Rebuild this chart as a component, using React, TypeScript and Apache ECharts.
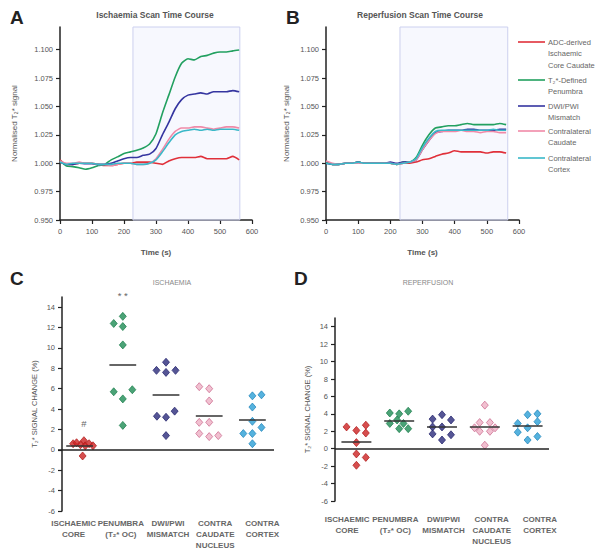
import React, { useEffect, useRef } from "react";
import * as echarts from "echarts";

// ---------- Panel A/B: time courses ----------
const time = [0, 20, 40, 60, 80, 100, 120, 140, 160, 180, 200, 220, 240, 260, 280, 300, 320, 340, 360, 380, 400, 420, 440, 460, 480, 500, 520, 540, 560];

const seriesNames = ["ADC-derived Ischaemic Core Caudate", "T₂*-Defined Penumbra", "DWI/PWI Mismatch", "Contralateral Caudate", "Contralateral Cortex"];
const legendLabels = ["ADC-derived\nIschaemic\nCore Caudate", "T₂*-Defined\nPenumbra", "DWI/PWI\nMismatch", "Contralateral\nCaudate", "Contralateral\nCortex"];

const aRed = [1.003, 0.999, 0.999, 1.0, 1.0, 1.0, 0.999, 0.998, 0.998, 0.999, 1.0, 1.0, 1.001, 1.001, 1.001, 1.0, 0.999, 1.002, 1.004, 1.005, 1.005, 1.005, 1.006, 1.004, 1.004, 1.004, 1.004, 1.006, 1.003];
const aGreen = [1.002, 0.9976, 0.997, 0.996, 0.9947, 0.996, 0.998, 0.999, 1.003, 1.0056, 1.0085, 1.01, 1.0115, 1.0135, 1.017, 1.026, 1.044, 1.06, 1.076, 1.088, 1.092, 1.091, 1.094, 1.095, 1.097, 1.098, 1.098, 1.099, 1.0997];
const aNavy = [1.001, 0.999, 0.999, 1.0, 0.9995, 0.9995, 0.999, 0.999, 1.0, 1.002, 1.004, 1.005, 1.005, 1.007, 1.008, 1.013, 1.025, 1.036, 1.048, 1.056, 1.06, 1.061, 1.062, 1.061, 1.063, 1.063, 1.063, 1.064, 1.063];
const aPink = [1.002, 1.0, 1.0, 1.001, 1.0, 1.0, 0.999, 0.999, 0.998, 0.999, 1.0, 1.0, 0.999, 0.999, 1.0, 1.004, 1.012, 1.021, 1.028, 1.031, 1.031, 1.032, 1.032, 1.031, 1.03, 1.031, 1.032, 1.032, 1.031];
const aCyan = [1.001, 0.999, 1.0, 1.0, 1.0, 1.0, 0.999, 0.999, 0.999, 1.0, 1.0, 1.0, 0.999, 0.999, 1.0, 1.003, 1.01, 1.018, 1.025, 1.028, 1.029, 1.03, 1.029, 1.03, 1.029, 1.03, 1.03, 1.03, 1.029];

const bRed = [1.001, 0.999, 0.999, 1.0, 1.0, 1.001, 1.0, 1.0, 1.0, 1.0, 1.0, 0.999, 1.0, 1.0, 1.001, 1.003, 1.004, 1.006, 1.008, 1.009, 1.011, 1.01, 1.01, 1.01, 1.01, 1.009, 1.01, 1.01, 1.009];
const bGreen = [1.001, 0.999, 0.999, 1.0, 1.0, 1.001, 1.0, 1.0, 1.0, 1.0, 1.0, 0.999, 1.001, 1.001, 1.005, 1.016, 1.025, 1.031, 1.032, 1.033, 1.033, 1.034, 1.035, 1.034, 1.034, 1.034, 1.034, 1.035, 1.034];
const bNavy = [1.0, 0.999, 0.999, 1.0, 1.0, 1.001, 1.0, 1.0, 1.0, 1.0, 1.001, 1.0, 1.001, 1.001, 1.003, 1.012, 1.02, 1.027, 1.028, 1.029, 1.029, 1.029, 1.03, 1.03, 1.029, 1.029, 1.029, 1.03, 1.03];
const bPink = [1.002, 1.0, 0.999, 1.0, 1.0, 1.0, 1.0, 1.0, 1.0, 1.0, 1.0, 0.999, 1.0, 1.001, 1.003, 1.012, 1.02, 1.026, 1.028, 1.028, 1.028, 1.029, 1.028, 1.028, 1.027, 1.028, 1.028, 1.027, 1.027];
const bCyan = [1.0, 0.999, 0.999, 1.0, 1.0, 1.001, 1.0, 1.0, 1.0, 1.0, 1.0, 0.999, 1.0, 1.001, 1.004, 1.014, 1.022, 1.028, 1.029, 1.029, 1.029, 1.029, 1.029, 1.029, 1.029, 1.029, 1.03, 1.029, 1.029];

const scanWindowA = [228, 562];
const scanWindowB = [230, 565];
const signalTicks = [0.95, 0.975, 1.0, 1.025, 1.05, 1.075, 1.1];

// ---------- Panel C/D: signal change ----------
const groupLabels = ["ISCHAEMIC\nCORE", "PENUMBRA\n(T₂* OC)", "DWI/PWI\nMISMATCH", "CONTRA\nCAUDATE\nNUCLEUS", "CONTRA\nCORTEX"];
const changeTicks = [-6, -4, -2, 0, 2, 4, 6, 8, 10, 12, 14];

const cCore = [0.6, 0.7, 0.5, 0.9, 0.4, 0.6, 0.4, -0.6];
const cCoreJit = [-0.15, -0.07, 0.02, 0.1, 0.13, 0.22, 0.31, 0.07];
const cPen = [12.4, 13.1, 12.1, 10.3, 5.7, 5.0, 5.9, 2.4];
const cPenJit = [-0.21, 0, 0, 0, -0.21, 0, 0.22, 0];
const cDwi = [8.6, 7.8, 7.6, 7.8, 3.3, 3.2, 3.8, 1.4];
const cDwiJit = [0, -0.22, 0, 0.22, -0.21, 0, 0.2, 0];
const cCaud = [6.2, 6.0, 4.8, 2.7, 2.7, 1.6, 1.3, 1.4];
const cCaudJit = [-0.23, 0, 0, -0.23, 0, -0.23, 0, 0.21];
const cCort = [5.3, 5.4, 4.2, 2.8, 2.2, 1.6, 1.6, 0.6];
const cCortJit = [0, 0.21, 0, 0, 0.21, -0.21, 0, 0];
const cMeans = [0.44, 8.36, 5.44, 3.34, 2.96];

const dCore = [2.5, 2.1, 2.7, 1.8, 0.7, -0.6, -1.0, -1.9];
const dCoreJit = [-0.23, 0, 0.22, 0.22, 0, 0, 0.22, 0];
const dPen = [4.1, 4.0, 4.3, 2.9, 3.3, 2.9, 2.3, 2.3];
const dPenJit = [-0.22, 0, 0.21, -0.22, -0.05, 0.1, 0, 0.21];
const dDwi = [3.4, 3.9, 3.3, 2.5, 2.5, 1.7, 1.6, 1.0];
const dDwiJit = [-0.22, 0, 0.21, -0.22, 0, -0.22, 0.21, 0];
const dCaud = [5.0, 3.0, 3.0, 2.4, 2.4, 2.0, 2.0, 0.4];
const dCaudJit = [0, -0.12, 0.12, -0.24, 0.24, -0.12, 0.12, 0];
const dCort = [3.9, 4.0, 2.9, 3.1, 2.4, 1.9, 1.0, 1.4];
const dCortJit = [0, 0.23, -0.23, 0.23, 0, -0.23, 0, 0.23];
const dMeans = [0.79, 3.26, 2.49, 2.53, 2.58];

const FONT = "'Liberation Sans', Arial, sans-serif";
const lineColors = ["#e0303a", "#22a060", "#3535a0", "#f08aa8", "#3ab8c8"];
const dotColors = ["#cc2222", "#1e8c55", "#2b2b7a", "#eeb0c4", "#2a9fd6"];
const dotBorders = ["#b01818", "#187a48", "#22226a", "#c8648a", "#1c82b8"];

export default function App() {
  const ref = useRef<HTMLDivElement>(null);

  useEffect(() => {
    document.body.style.margin = "0";
    if (!ref.current) return;
    const chart = echarts.init(ref.current, null, { renderer: "svg" });

    const axisLine = { show: true, lineStyle: { color: "#222", width: 1.5 } };
    const label = { fontSize: 7.5, color: "#555", fontFamily: FONT };

    const timeX = (gridIndex: number) => ({
      type: "value",
      gridIndex,
      min: 0,
      max: 600,
      interval: 100,
      axisLine,
      axisTick: { show: true, length: 4, lineStyle: { color: "#222", width: 1.2 } },
      splitLine: { show: false },
      axisLabel: { ...label, margin: 7 },
      name: "Time (s)",
      nameLocation: "middle",
      nameGap: 28,
      nameTextStyle: { fontSize: 8, fontWeight: "bold", color: "#555", fontFamily: FONT },
    });
    const signalY = (gridIndex: number, nameGap: number) => ({
      type: "value",
      gridIndex,
      min: 0.95,
      max: 1.12,
      axisLine,
      axisTick: { show: true, length: 4, customValues: signalTicks, lineStyle: { color: "#222", width: 1.2 } },
      splitLine: { show: false },
      axisLabel: { ...label, margin: 7, customValues: signalTicks, formatter: (v: number) => v.toFixed(3) },
      name: "Normalised T₂* signal",
      nameLocation: "middle",
      nameGap,
      nameTextStyle: { fontSize: 8, color: "#555", fontFamily: FONT },
    });
    const catX = (gridIndex: number, margin: number) => ({
      type: "category",
      gridIndex,
      data: groupLabels,
      boundaryGap: true,
      axisLine: { show: false },
      axisTick: { show: false },
      axisLabel: { ...label, fontSize: 8, color: "#666", fontWeight: "bold", interval: 0, lineHeight: 11, margin },
    });
    const valX = (gridIndex: number) => ({ type: "value", gridIndex, min: 0.5, max: 5.5, show: false });
    const hiddenY = (gridIndex: number) => ({ type: "value", gridIndex, min: 0, max: 1, show: false });
    const changeY = (gridIndex: number, offset: number) => ({
      type: "value",
      gridIndex,
      min: -6,
      max: 15,
      offset,
      axisLine,
      axisTick: { show: true, length: 4, customValues: changeTicks, lineStyle: { color: "#222", width: 1.2 } },
      splitLine: { show: false },
      axisLabel: { ...label, margin: 7, customValues: changeTicks },
      name: "T₂* SIGNAL CHANGE (%)",
      nameLocation: "middle",
      nameGap: 24,
      nameTextStyle: { fontSize: 7.5, color: "#555", fontFamily: FONT },
    });

    const lineSeries = (sets: number[][], xi: number, yi: number, win: number[]) =>
      sets.map((vals, i) => ({
        type: "line",
        name: seriesNames[i],
        xAxisIndex: xi,
        yAxisIndex: yi,
        data: vals.map((v, k) => [time[k], v]),
        showSymbol: false,
        smooth: 0.2,
        lineStyle: { color: lineColors[i], width: 1.6 },
        itemStyle: { color: lineColors[i] },
        z: 3,
        markArea:
          i === 0
            ? {
                silent: true,
                itemStyle: { color: "rgba(236,238,252,0.4)", borderColor: "#ccd0ef", borderWidth: 1 },
                data: [[{ xAxis: win[0] }, { xAxis: win[1] }]],
              }
            : undefined,
      }));

    const scatterSeries = (groups: number[][], jits: number[][], means: number[], xi: number, yi: number, half: number, extra: any[]) =>
      groups.map((vals, i) => ({
        type: "scatter",
        xAxisIndex: xi,
        yAxisIndex: yi,
        symbol: "diamond",
        symbolSize: [7, 8],
        data: vals.map((v, k) => [i + 1 + jits[i][k], v]),
        itemStyle: { color: dotColors[i], borderColor: dotBorders[i], borderWidth: 0.9 },
        z: 3,
        markLine: {
          silent: true,
          symbol: "none",
          label: { show: false },
          lineStyle: { color: "#333", width: 1.5, type: "solid" },
          data: [
            [{ coord: [i + 1 - half, means[i]] }, { coord: [i + 1 + half, means[i]] }],
            ...(i === 0 ? [{ yAxis: 0, lineStyle: { color: "#222", width: 1.5 } }] : []),
          ],
        },
        markPoint: extra[i],
      }));

    const annot = (text: string, coord: number[], dy: number) => ({
      silent: true,
      symbol: "circle",
      symbolSize: 1,
      itemStyle: { color: "rgba(0,0,0,0)" },
      label: { show: true, position: "inside", offset: [0, dy], formatter: text, fontSize: 9.5, color: "#666", fontFamily: FONT },
      data: [{ coord }],
    });

    const legendY = [42, 80, 106, 131, 158];
    const legendGraphics = legendLabels.flatMap((t, i) => [
      {
        type: "line",
        shape: { x1: 518, y1: legendY[i], x2: 545, y2: legendY[i] },
        style: { stroke: lineColors[i], lineWidth: 1.6 },
      },
      {
        type: "text",
        x: 548,
        y: legendY[i] - 5.75,
        style: { text: t, fontSize: 7.5, lineHeight: 11.5, fill: "#666", fontFamily: FONT, verticalAlign: "top" },
      },
    ]);

    const panelTitle = (text: string, left: number, top: number) => ({
      text,
      left,
      top,
      textStyle: { fontSize: 19, fontWeight: "bold", color: "#222", fontFamily: FONT },
    });
    const subTitle = (text: string, left: number, top: number, bold: boolean, size: number) => ({
      text,
      left,
      top,
      textAlign: "center",
      textStyle: { fontSize: size, fontWeight: bold ? "bold" : "normal", color: bold ? "#555" : "#888", fontFamily: FONT },
    });

    const option: any = {
      animation: false,
      textStyle: { fontFamily: FONT },
      title: [
        panelTitle("A", 5, 3),
        panelTitle("B", 281, 3),
        panelTitle("C", 5, 264),
        panelTitle("D", 289, 264),
        subTitle("Ischaemia Scan Time Course", 150, 5, true, 8.5),
        subTitle("Reperfusion Scan Time Course", 415, 5, true, 8.5),
        subTitle("ISCHAEMIA", 167, 274, false, 7),
        subTitle("REPERFUSION", 423, 274, false, 7),
      ],
      grid: [
        { left: 60, top: 27, width: 192, height: 193 },
        { left: 326, top: 27, width: 193, height: 193 },
        { left: 58, top: 297, width: 216, height: 214 },
        { left: 335, top: 318, width: 214, height: 183 },
        { left: 50, top: 297, width: 236, height: 214 },
        { left: 323, top: 318, width: 241, height: 183 },
      ],
      xAxis: [timeX(0), timeX(1), valX(2), valX(3), catX(4, 7), catX(5, 13)],
      yAxis: [signalY(0, 42), signalY(1, 36), changeY(2, -4), changeY(3, 0), hiddenY(4), hiddenY(5)],
      series: [
        ...lineSeries([aRed, aGreen, aNavy, aPink, aCyan], 0, 0, scanWindowA),
        ...lineSeries([bRed, bGreen, bNavy, bPink, bCyan], 1, 1, scanWindowB),
        ...scatterSeries([cCore, cPen, cDwi, cCaud, cCort], [cCoreJit, cPenJit, cDwiJit, cCaudJit, cCortJit], cMeans, 2, 2, 0.31, [
          annot("#", [1.1, 2.6], 0),
          annot("* *", [2, 14.9], -3),
          undefined,
          undefined,
          undefined,
        ]),
        ...scatterSeries([dCore, dPen, dDwi, dCaud, dCort], [dCoreJit, dPenJit, dDwiJit, dCaudJit, dCortJit], dMeans, 3, 3, 0.35, [
          undefined,
          undefined,
          undefined,
          undefined,
          undefined,
        ]),
      ],
      graphic: legendGraphics,
    };

    chart.setOption(option);
    return () => chart.dispose();
  }, []);

  return <div ref={ref} style={{ width: 602, height: 551 }} />;
}
